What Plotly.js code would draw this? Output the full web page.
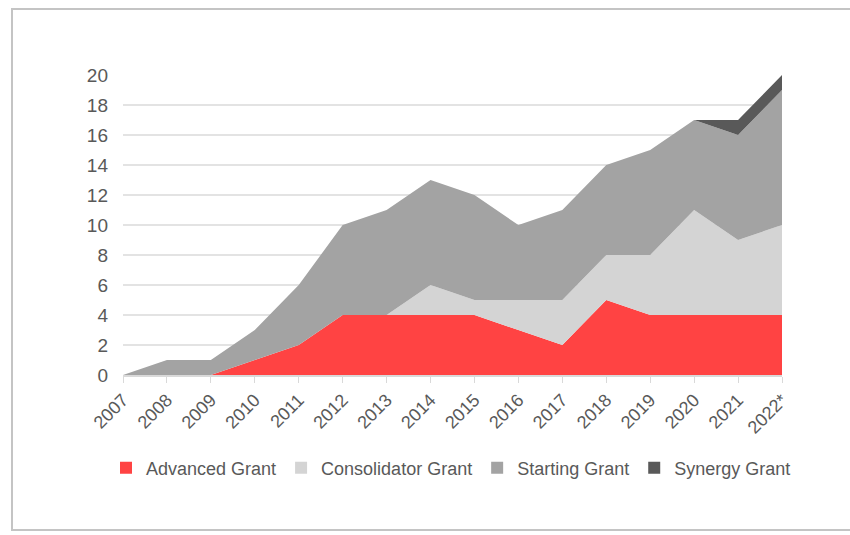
<!DOCTYPE html>
<html>
<head>
<meta charset="utf-8">
<script src="https://cdn.plot.ly/plotly-3.0.1.min.js"></script>
<style>html,body{margin:0;padding:0;background:#fff;}#chart{width:850px;height:535px;}</style>
</head>
<body>
<div id="chart"></div>
<script>
const years = ["2007","2008","2009","2010","2011","2012","2013","2014","2015","2016","2017","2018","2019","2020","2021","2022*"];
const advanced     = [0,0,0,1,2,4,4,4,4,3,2,5,4,4,4,4];
const consolidator = [0,0,0,0,0,0,0,2,1,2,3,3,4,7,5,6];
const starting     = [0,1,1,2,4,6,7,7,7,5,6,6,7,6,7,9];
const synergy      = [0,0,0,0,0,0,0,0,0,0,0,0,0,0,1,1];
const seriesNames  = ["Advanced Grant","Consolidator Grant","Starting Grant","Synergy Grant"];
const colors = ["#ff4343","#d4d4d4","#a3a3a3","#595959"];
const values = [advanced, consolidator, starting, synergy];

const traces = [];
values.forEach((v,i)=>{
  traces.push({x: years, y: v, type:'scatter', mode:'none', stackgroup:'one',
    fill:'tonexty', fillcolor: colors[i], line:{width:0}, name: seriesNames[i],
    showlegend:false, hoverinfo:'x+y+name'});
});
values.forEach((v,i)=>{
  traces.push({x:[null], y:[null], type:'scatter', mode:'markers', name: seriesNames[i],
    marker:{symbol:'square', size:12, color: colors[i]}, showlegend:true});
});

const L=123, R=782, T=75, B=375;
const W=R-L, H=B-T;
const px = x => (x-L)/W, py = y => (B-y)/H;

const layout = {
  width:850, height:535,
  margin:{l:L, r:850-R, t:T, b:535-B},
  paper_bgcolor:'#ffffff', plot_bgcolor:'#ffffff',
  font:{family:'"Liberation Sans", Arial, sans-serif', color:'#595959', size:18},
  xaxis:{type:'category', range:[0,15], showgrid:false, showline:true, linecolor:'#d9d9d9', linewidth:1.5,
    ticks:'outside', ticklen:6, tickcolor:'#d9d9d9', tickangle:-45, tickfont:{size:18, color:'#595959'}, fixedrange:true, zeroline:false},
  yaxis:{range:[0,20], dtick:2, tick0:0, showgrid:true, gridcolor:'#e3e3e3', gridwidth:1.5, zeroline:false,
    showline:false, ticks:'', ticklabelstandoff:14, tickfont:{size:19, color:'#595959'}, fixedrange:true},
  legend:{orientation:'h', x:px(106), xanchor:'left', y:py(468), yanchor:'middle',
    font:{size:18, color:'#595959'}, itemwidth:30, traceorder:'normal', tracegroupgap:0},
  showlegend:true,
  shapes:[
    {type:'rect', xref:'paper', yref:'paper', x0:px(12), x1:px(860), y0:py(530), y1:py(9),
     line:{color:'#c4c4c4', width:2}, fillcolor:'rgba(0,0,0,0)', layer:'below'}
  ]
};
Plotly.newPlot('chart', traces, layout, {displayModeBar:false, staticPlot:true});
</script>
</body>
</html>
